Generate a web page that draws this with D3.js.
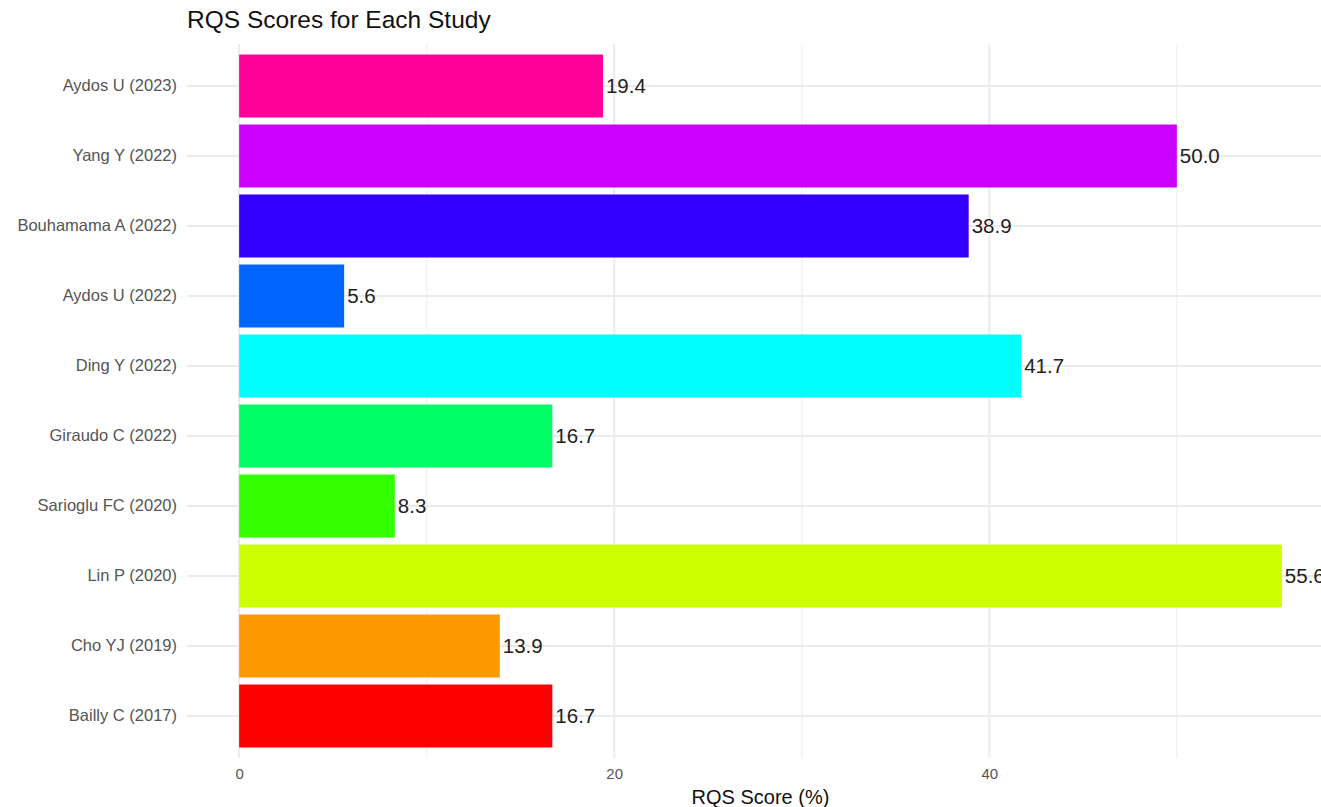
<!DOCTYPE html>
<html><head><meta charset="utf-8">
<script src="https://cdn.jsdelivr.net/npm/d3@7"></script>
<style>body{margin:0;background:#fff;} svg{display:block;font-family:"Liberation Sans",Arial,sans-serif;}</style>
</head><body><svg id="c" width="1321" height="807"></svg>
<script>
const studies = ["Aydos U (2023)","Yang Y (2022)","Bouhamama A (2022)","Aydos U (2022)","Ding Y (2022)","Giraudo C (2022)","Sarioglu FC (2020)","Lin P (2020)","Cho YJ (2019)","Bailly C (2017)"];
const scores = [19.4,50.0,38.9,5.6,41.7,16.7,8.3,55.6,13.9,16.7];
const colors = ["#FF0099","#CC00FF","#3300FF","#0066FF","#00FFFF","#00FF66","#33FF00","#CCFF00","#FF9900","#FF0000"];
const majorTicks = [0,20,40];
const minorTicks = [10,30,50];

(function(){
const svg = d3.select("#c");
const pL = 187, pR = 1334, pT = 44, pB = 758;
const maxV = d3.max(scores);
const pad = maxV*0.05;
const x = d3.scaleLinear().domain([-pad, maxV+pad]).range([pL, pR]);
const y = d3.scaleBand().domain(studies).range([pT, pB]).paddingInner(0.1).paddingOuter(0.15);

const g = svg.append("g");
g.selectAll(".minor").data(minorTicks).join("line")
  .attr("x1", d=>x(d)).attr("x2", d=>x(d)).attr("y1", pT).attr("y2", pB)
  .attr("stroke", "#f0f0f0").attr("stroke-width", 1.2);
g.selectAll(".major").data(majorTicks).join("line")
  .attr("x1", d=>x(d)).attr("x2", d=>x(d)).attr("y1", pT).attr("y2", pB)
  .attr("stroke", "#ebebeb").attr("stroke-width", 2);
g.selectAll(".hgrid").data(studies).join("line")
  .attr("x1", pL).attr("x2", pR)
  .attr("y1", d=>y(d)+y.bandwidth()/2).attr("y2", d=>y(d)+y.bandwidth()/2)
  .attr("stroke", "#ebebeb").attr("stroke-width", 2);

g.selectAll(".bar").data(studies).join("rect")
  .attr("x", x(0)).attr("y", d=>y(d))
  .attr("width", (d,i)=>x(scores[i])-x(0)).attr("height", y.bandwidth())
  .attr("fill", (d,i)=>colors[i]);

g.selectAll(".val").data(studies).join("text")
  .attr("x", (d,i)=>x(scores[i])+3).attr("y", d=>y(d)+y.bandwidth()/2)
  .attr("dy", "0.36em").attr("font-size", 20.5).attr("fill", "#222")
  .text((d,i)=>scores[i].toFixed(1));

const yAxis = d3.axisLeft(y).tickSize(0).tickPadding(10);
const ya = svg.append("g").attr("transform", `translate(${pL},0)`).call(yAxis);
ya.select(".domain").remove();
ya.selectAll("text").attr("font-size", 16.5).attr("fill", "#555").attr("font-family", "Liberation Sans, Arial, sans-serif");

const xAxis = d3.axisBottom(x).tickValues(majorTicks).tickSize(0).tickPadding(10);
const xa = svg.append("g").attr("transform", `translate(0,${pB})`).call(xAxis);
xa.select(".domain").remove();
xa.selectAll("text").attr("font-size", 15).attr("fill", "#555").attr("font-family", "Liberation Sans, Arial, sans-serif");

svg.append("text").attr("x", (pL+pR)/2).attr("y", 804).attr("text-anchor", "middle")
  .attr("font-size", 20).attr("fill", "#111").text("RQS Score (%)");
svg.append("text").attr("x", pL).attr("y", 28).attr("font-size", 24.5).attr("fill", "#111")
  .text("RQS Scores for Each Study");
})();
</script></body></html>
